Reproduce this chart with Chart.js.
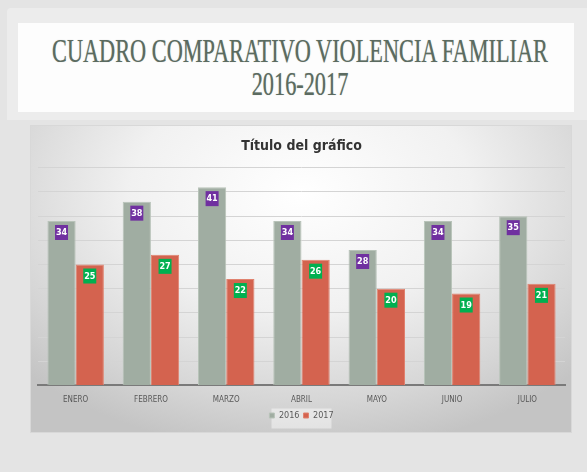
<!DOCTYPE html>
<html>
<head>
<meta charset="utf-8">
<script src="https://cdn.jsdelivr.net/npm/chart.js@4"></script>
<style>
  html, body { margin: 0; padding: 0; }
  body { width: 587px; height: 472px; background: #e4e4e4; position: relative; overflow: hidden; font-family: 'Liberation Serif', serif; }
  #frame { position: absolute; left: 7px; top: 8px; width: 580px; height: 112px; background: #ececec; border-radius: 4px 0 0 0; }
  #header { position: absolute; left: 18px; top: 23px; width: 556px; height: 89px; background: #fdfdfd; }
  .line { position: absolute; left: 0; width: 100%; height: 33px; color: #5b6b60; font-size: 33px; line-height: 33px; white-space: nowrap; text-shadow: 0 0 1px rgba(90,100,95,0.5); }
  .line span { position: absolute; left: 282px; top: 0; transform-origin: 0 0; }
  #l1 { top: 12px; }
  #l2 { top: 45px; }
  #box { position: absolute; left: 30px; top: 125px; width: 542px; height: 308px;
    background: radial-gradient(ellipse 70% 85% at 50% 22%, #ffffff 0%, #f1f1f1 45%, #d6d6d6 80%, #c4c4c4 100%);
    border: 1px solid #d8d8d8; box-sizing: border-box; }
</style>
</head>
<body>
<div id="frame"></div>
<div id="header">
  <div class="line" id="l1"><span id="t1">CUADRO COMPARATIVO VIOLENCIA FAMILIAR</span></div>
  <div class="line" id="l2"><span id="t2">2016-2017</span></div>
</div>
<div id="box"><canvas id="chart" width="540" height="306"></canvas></div>
<script>
// datos del gráfico
const meses = ['ENERO', 'FEBRERO', 'MARZO', 'ABRIL', 'MAYO', 'JUNIO', 'JULIO'];
const valores2016 = [34, 38, 41, 34, 28, 34, 35];
const valores2017 = [25, 27, 22, 26, 20, 19, 21];
const series = ['2016', '2017'];

// comprimir el texto del encabezado al ancho del original
const s1 = document.getElementById('t1');
const k = 496 / s1.getBoundingClientRect().width;
s1.style.transform = 'scaleX(' + k + ') translateX(-50%)';
document.getElementById('t2').style.transform = 'scaleX(' + k + ') translateX(-50%)';

// etiquetas de datos en cajitas de color
const etiquetas = {
  id: 'etiquetas',
  afterDatasetsDraw(chart) {
    const ctx = chart.ctx;
    const fondos = ['#7030a0', '#00b050'];
    chart.data.datasets.forEach((ds, i) => {
      const meta = chart.getDatasetMeta(i);
      meta.data.forEach((bar, j) => {
        const txt = String(ds.data[j]);
        const w = 13, h = 15;
        const x = bar.x - w / 2, y = bar.y + 4;
        ctx.save();
        ctx.fillStyle = fondos[i];
        ctx.fillRect(x, y, w, h);
        ctx.fillStyle = '#ffffff';
        ctx.font = 'bold 9px "DejaVu Sans Condensed", "DejaVu Sans", sans-serif';
        ctx.textAlign = 'center';
        ctx.textBaseline = 'middle';
        ctx.fillText(txt, bar.x, y + h / 2 + 0.5);
        ctx.restore();
      });
    });
  }
};

// fondo blanco tenue detrás de la leyenda
const fondoLeyenda = {
  id: 'fondoLeyenda',
  beforeDraw(chart) {
    const lg = chart.legend;
    if (!lg) return;
    const ctx = chart.ctx;
    ctx.save();
    ctx.fillStyle = 'rgba(255,255,255,0.45)';
    ctx.fillRect(lg.left + lg.width / 2 - 30, lg.top + lg.height / 2 - 10, 60, 20);
    ctx.restore();
  }
};

new Chart(document.getElementById('chart'), {
  type: 'bar',
  data: {
    labels: meses,
    datasets: [
      { label: series[0], data: valores2016, backgroundColor: '#a0ada2', borderColor: '#b8c3b9', borderWidth: 1 },
      { label: series[1], data: valores2017, backgroundColor: '#d4634f', borderColor: '#e0826f', borderWidth: 1 }
    ]
  },
  options: {
    responsive: false,
    animation: false,
    layout: { padding: { left: 7, right: 6, top: 4, bottom: 2 } },
    datasets: { bar: { categoryPercentage: 0.75, barPercentage: 1.0 } },
    plugins: {
      title: {
        display: true,
        text: 'Título del gráfico',
        color: '#333333',
        font: { family: '"DejaVu Sans Condensed", "DejaVu Sans", sans-serif', size: 14, weight: 'bold' },
        padding: { top: 8, bottom: 13 }
      },
      legend: {
        position: 'bottom',
        labels: {
          color: '#595959',
          boxWidth: 5, boxHeight: 5,
          padding: 4,
          font: { family: '"DejaVu Sans Condensed", "DejaVu Sans", sans-serif', size: 9 }
        }
      },
      tooltip: { enabled: false }
    },
    scales: {
      x: {
        grid: { display: false },
        border: { color: '#7a7a7a', width: 2 },
        ticks: { color: '#595959', padding: 2, font: { family: '"DejaVu Sans Condensed", "DejaVu Sans", sans-serif', size: 8 } }
      },
      y: {
        min: 0, max: 45,
        ticks: { stepSize: 5, display: false },
        grid: { color: '#d4d4d4', lineWidth: 1, drawTicks: false },
        border: { display: false }
      }
    }
  },
  plugins: [etiquetas, fondoLeyenda]
});
</script>
</body>
</html>
